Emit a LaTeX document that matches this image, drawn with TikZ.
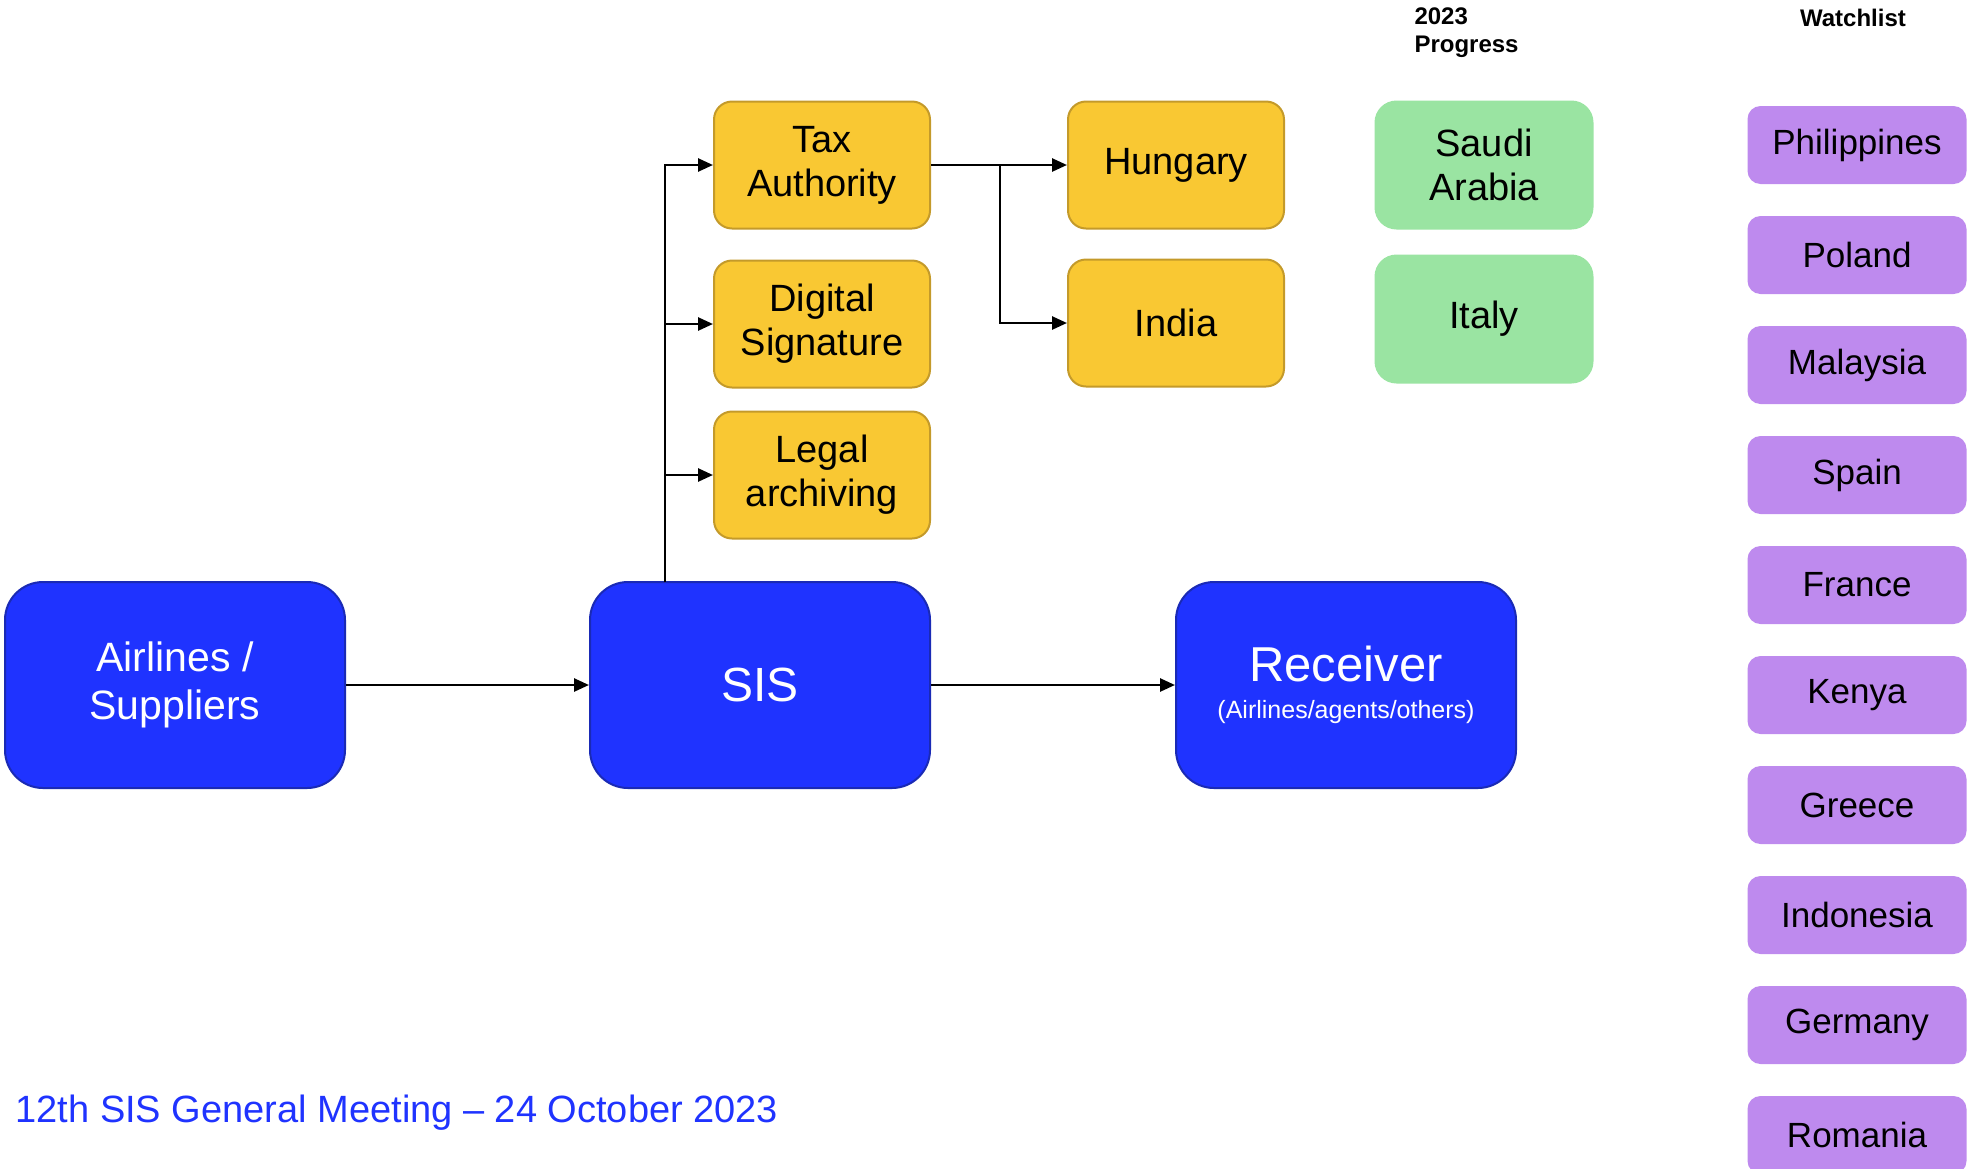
\documentclass[tikz,border=0pt]{standalone}
\usepackage{fontspec}
\setmainfont{Liberation Sans}
\usepackage{xcolor}
\usetikzlibrary{arrows.meta,positioning}

\definecolor{sisblue}{HTML}{1F33FF}
\definecolor{sisblueline}{HTML}{1A2AB5}
\definecolor{taxyellow}{HTML}{F9C833}
\definecolor{taxyellowline}{HTML}{C49A2A}
\definecolor{proggreen}{HTML}{9AE4A2}
\definecolor{watchpurple}{HTML}{BE8AEE}

\tikzset{
  flowbox/.style={draw=sisblueline, fill=sisblue, text=white, rounded corners=38pt, line width=2pt,
    minimum width=340pt, minimum height=206pt, align=center},
  taxbox/.style={draw=taxyellowline, fill=taxyellow, rounded corners=18pt, line width=2pt,
    minimum width=216pt, minimum height=127pt, align=center, font=\fontsize{38}{44}\selectfont},
  progbox/.style={fill=proggreen, rounded corners=22pt, minimum width=219pt, minimum height=129pt,
    align=center, font=\fontsize{38}{44}\selectfont},
  watchbox/.style={fill=watchpurple, rounded corners=13pt, minimum width=219pt, minimum height=78pt,
    font=\fontsize{35}{40}\selectfont},
  header/.style={font=\bfseries\fontsize{24}{28}\selectfont},
  link/.style={-{Triangle[length=15pt,width=13pt]}, line width=2.6pt}
}

\begin{document}
\begin{tikzpicture}[x=1pt,y=-1pt]
    \useasboundingbox (0,0) rectangle (1972,1168);

    % Main flow
    \node[flowbox, font=\fontsize{41}{48}\selectfont] (airlines) at (175,685) {Airlines /\\Suppliers};
    \node[flowbox, font=\fontsize{48}{56}\selectfont] (sis) at (760,685) {SIS};
    \node[flowbox, font=\fontsize{25}{37}\selectfont] (receiver) at (1346,685) {{\fontsize{49}{50}\selectfont Receiver}\\(Airlines/agents/others)};

    % Compliance checks
    \node[taxbox] (tax) at (822,165) {Tax\\Authority};
    \node[taxbox] (dsig) at (822,324) {Digital\\Signature};
    \node[taxbox] (legal) at (822,475) {Legal\\archiving};

    % Tax authority countries
    \node[taxbox] (hungary) at (1176,165) {Hungary};
    \node[taxbox] (india) at (1176,323) {India};

    % 2023 progress
    \node[header, align=left, anchor=north west] (proghead) at (1411,4) {2023\\Progress};
    \node[progbox] (saudi) at (1484,165) {Saudi\\Arabia};
    \node[progbox] (italy) at (1484,319) {Italy};

    % Watchlist
    \node[header, anchor=north] (watchhead) at (1853,6) {Watchlist};
    \foreach \country [count=\i from 0] in {Philippines,Poland,Malaysia,Spain,France,Kenya,Greece,Indonesia,Germany,Romania}
        \node[watchbox] (w\i) at (1857,{145+110*\i}) {\country};

    % Footer
    \node[anchor=west, text=sisblue, font=\fontsize{38}{42}\selectfont] (footer) at (12,1113) {12th SIS General Meeting -- 24 October 2023};

    % Arrows
    \draw[link] (airlines) -- (sis);
    \draw[link] (sis) -- (receiver);
    \coordinate (split) at (665,582);
    \draw[link] (split) |- (tax.west);
    \draw[link] (split) |- (dsig.west);
    \draw[link] (split) |- (legal.west);
    \coordinate (fork) at (1000,165);
    \draw[link] (tax.east) -- (hungary.west);
    \draw[link] (fork) |- (india.west);
\end{tikzpicture}
\end{document}
